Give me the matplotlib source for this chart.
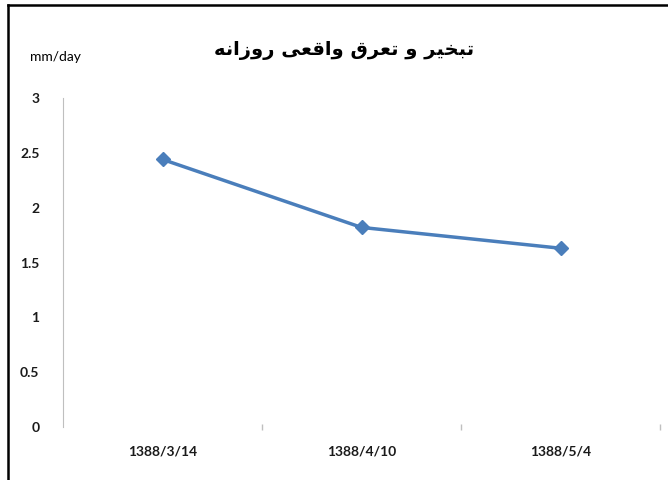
import matplotlib
matplotlib.use('Agg')
import matplotlib.pyplot as plt
from matplotlib.lines import Line2D

# data
dates = ['1388/3/14', '1388/4/10', '1388/5/4']
et_values = [2.44, 1.82, 1.63]
y_ticks = [0, 0.5, 1, 1.5, 2, 2.5, 3]
y_ticklabels = ['0', '0.5', '1', '1.5', '2', '2.5', '3']
title_fa = 'تبخیر و تعرق واقعی روزانه'
unit_label = 'mm/day'

# matplotlib does no arabic shaping, so pick presentation forms by hand
# (isolated, final, initial, medial)
FORMS = {
    'ت': ('\ufe95', '\ufe96', '\ufe97', '\ufe98'),
    'ب': ('\ufe8f', '\ufe90', '\ufe91', '\ufe92'),
    'خ': ('\ufea5', '\ufea6', '\ufea7', '\ufea8'),
    'ی': ('\ufeef', '\ufef0', '\ufef3', '\ufef4'),
    'ر': ('\ufead', '\ufeae', '\ufead', '\ufeae'),
    'ز': ('\ufeaf', '\ufeb0', '\ufeaf', '\ufeb0'),
    'و': ('\ufeed', '\ufeee', '\ufeed', '\ufeee'),
    'ا': ('\ufe8d', '\ufe8e', '\ufe8d', '\ufe8e'),
    'ع': ('\ufec9', '\ufeca', '\ufecb', '\ufecc'),
    'ق': ('\ufed5', '\ufed6', '\ufed7', '\ufed8'),
    'ن': ('\ufee5', '\ufee6', '\ufee7', '\ufee8'),
    'ه': ('\ufee9', '\ufeea', '\ufeeb', '\ufeec'),
}
RIGHT_ONLY = set('اروزدذ')


def shape(text):
    out = []
    for i, ch in enumerate(text):
        if ch not in FORMS:
            out.append(ch)
            continue
        prev = text[i - 1] if i > 0 else ''
        nxt = text[i + 1] if i + 1 < len(text) else ''
        join_prev = prev in FORMS and prev not in RIGHT_ONLY
        join_next = nxt in FORMS and ch not in RIGHT_ONLY
        iso, fin, ini, med = FORMS[ch]
        if join_prev and join_next:
            out.append(med)
        elif join_prev:
            out.append(fin)
        elif join_next:
            out.append(ini)
        else:
            out.append(iso)
    return ''.join(reversed(out))


plt.rcParams['font.family'] = ['Lato', 'DejaVu Sans']

fig = plt.figure(figsize=(6.68, 4.80), dpi=100)
ax = fig.add_axes([63 / 668, 1 - 427 / 480, (660 - 63) / 668, (427 - 98) / 480])

x = list(range(len(dates)))
ax.plot(x, et_values, color='#4A7EBB', lw=2.5, marker='D', markersize=7.5,
        markerfacecolor='#4A7EBB', markeredgecolor='#4A7EBB')

ax.set_xlim(-0.5, len(dates) - 0.5)
ax.set_ylim(0, 3)
ax.set_yticks(y_ticks)
ax.set_yticklabels(y_ticklabels, fontsize=10, fontweight='bold', color='#1a1a1a')
ax.set_xticks(x)
ax.set_xticklabels(dates, fontsize=10, fontweight='bold', color='#1a1a1a')
ax.set_xticks([0.5, 1.5, 2.5], minor=True)
ax.tick_params(axis='y', length=0, pad=17)
ax.tick_params(axis='x', which='major', length=0, pad=13)
ax.tick_params(axis='x', which='minor', length=5, width=1, color='#BFBFBF', direction='inout')

for s in ['top', 'right', 'bottom']:
    ax.spines[s].set_visible(False)
ax.spines['left'].set_color('#BFBFBF')

fig.text(344 / 668, 1 - 50 / 480, shape(title_fa), ha='center', va='center',
         fontsize=14, fontweight='bold', family='DejaVu Sans')
fig.text(55 / 668, 1 - 57 / 480, unit_label, ha='center', va='center', fontsize=10)

# outer frame (top and left edge)
fig.add_artist(Line2D([8 / 668, 8 / 668], [0, 1 - 5 / 480], color='black', lw=1.8,
                      transform=fig.transFigure))
fig.add_artist(Line2D([8 / 668, 1], [1 - 5 / 480, 1 - 5 / 480], color='black', lw=1.8,
                      transform=fig.transFigure))

plt.savefig('out.png', dpi=100)
